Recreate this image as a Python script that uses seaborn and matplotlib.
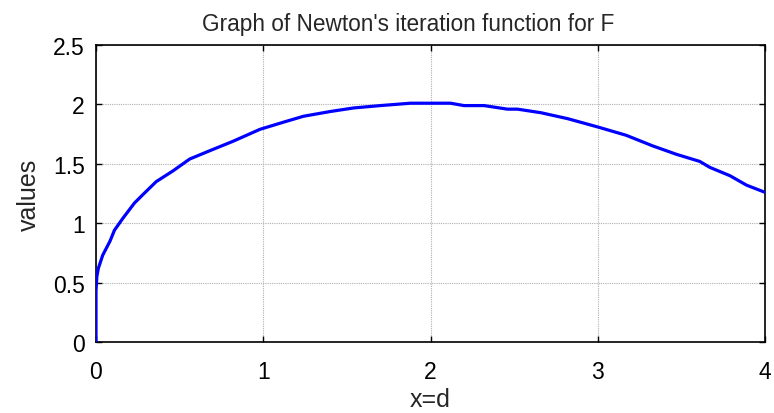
import matplotlib
matplotlib.use("Agg")
import matplotlib.pyplot as plt
import seaborn as sns
import pandas as pd

x_vals = [0, 0, 0.005, 0.014, 0.04, 0.084, 0.11, 0.16, 0.23, 0.28, 0.36, 0.46, 0.56,
          0.68, 0.82, 0.98, 1.12, 1.24, 1.40, 1.54, 1.70, 1.88, 2.12, 2.20, 2.32,
          2.46, 2.52, 2.66, 2.82, 3.0, 3.17, 3.33, 3.47, 3.61, 3.67, 3.79, 3.89, 4.0]
y_vals = [0, 0.43, 0.55, 0.62, 0.73, 0.85, 0.94, 1.04, 1.17, 1.24, 1.35, 1.44, 1.54,
          1.61, 1.69, 1.79, 1.85, 1.90, 1.94, 1.97, 1.99, 2.01, 2.01, 1.99, 1.99,
          1.96, 1.96, 1.93, 1.88, 1.81, 1.74, 1.65, 1.58, 1.52, 1.47, 1.40, 1.32, 1.26]
x_ticks = [0, 1, 2, 3, 4]
y_ticks = [0, 0.5, 1, 1.5, 2, 2.5]
y_tick_labels = ["0", "0.5", "1", "1.5", "2", "2.5"]

sns.set_style("white")
plt.rcParams["font.family"] = ["Liberation Sans", "DejaVu Sans"]

df = pd.DataFrame({"x": x_vals, "y": y_vals})

fig = plt.figure(figsize=(7.74, 4.14), dpi=100)
ax = fig.add_axes([96 / 774, 1 - 343 / 414, (765 - 96) / 774, (343 - 46) / 414])

sns.lineplot(data=df, x="x", y="y", ax=ax, sort=False, estimator=None,
             color="#0000ff", linewidth=2.3, zorder=3)

ax.set_xlim(0, 4)
ax.set_ylim(0, 2.5)
ax.set_xticks(x_ticks)
ax.set_xticklabels([str(t) for t in x_ticks])
ax.set_yticks(y_ticks)
ax.set_yticklabels(y_tick_labels)
ax.grid(True, color="#b0b0b0", linestyle=(0, (1, 1)), linewidth=0.8, zorder=0)
ax.tick_params(direction="in", length=4, width=1, colors="black", labelsize=16.5,
               top=True, right=True, bottom=True, left=True)
ax.tick_params(axis="x", pad=13)
ax.tick_params(axis="y", pad=8)
for s in ax.spines.values():
    s.set_color("black")
    s.set_linewidth(1.2)
    s.set_visible(True)

ax.set_title("Graph of Newton's iteration function for F", fontsize=16.3,
             pad=11, x=0.466)
ax.set_xlabel("x=d", fontsize=18, labelpad=3)
ax.set_ylabel("values", fontsize=18, labelpad=9)

fig.savefig("out.png", dpi=100)
